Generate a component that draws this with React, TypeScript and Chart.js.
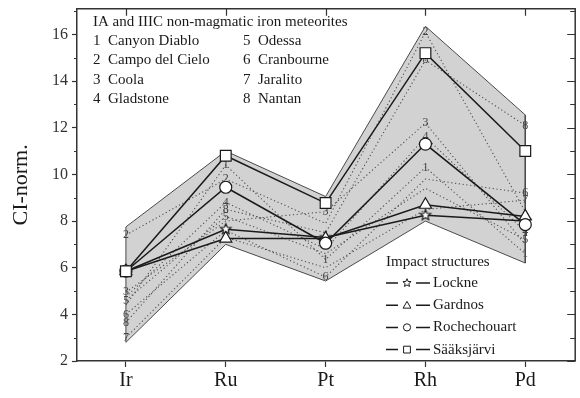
import React, { useEffect, useRef } from "react";
import { Chart, registerables } from "chart.js";

Chart.register(...registerables);

// ---- data ----
const elements = ["Ir", "Ru", "Pt", "Rh", "Pd"];

const meteoriteNames = [
  "Canyon Diablo",
  "Campo del Cielo",
  "Coola",
  "Gladstone",
  "Odessa",
  "Cranbourne",
  "Jaralito",
  "Nantan",
];
const canyonDiablo = [4.4, 10.4, 6.35, 10.3, 6.6];
const campoDelCielo = [7.4, 9.8, 7.9, 16.1, 8.4];
const coola = [4.95, 8.0, 8.4, 12.2, 7.0];
const gladstone = [4.75, 8.8, 6.8, 11.6, 7.55];
const odessa = [4.6, 8.2, 6.6, 9.4, 7.2];
const cranbourne = [4.0, 7.6, 5.6, 9.8, 9.2];
const jaralito = [3.0, 7.3, 6.0, 8.5, 8.9];
const nantan = [3.65, 8.5, 7.5, 14.9, 12.1];
// which element positions carry a visible number label (1 = shown)
const labelShown = ["01111", "11010", "10110", "01011", "11001", "10101", "10001", "11011"];

const impactNames = ["Lockne", "Gardnos", "Rochechouart", "Sääksjärvi"];
const lockne = [5.85, 7.65, 7.3, 8.25, 8.0];
const gardnos = [5.85, 7.25, 7.25, 8.7, 8.2];
const rochechouart = [5.85, 9.45, 7.05, 11.3, 7.85];
const saaksjarvi = [5.85, 10.8, 8.77, 15.2, 11.0];

const envelopeTop = [7.75, 11.0, 9.05, 16.35, 12.55];
const envelopeBottom = [2.8, 7.0, 5.43, 8.0, 6.2];

const legendTitle = "IA and IIIC non-magmatic iron meteorites";
const impactTitle = "Impact structures";
const yTitle = "CI-norm.";

// ---- helpers ----
const SERIF = '"Liberation Serif", "Times New Roman", serif';
const INK = "#1a1a1a";

function starPath(g: CanvasRenderingContext2D, cx: number, cy: number, r: number) {
  g.beginPath();
  for (let k = 0; k < 10; k++) {
    const a = -Math.PI / 2 + (k * Math.PI) / 5;
    const rr = k % 2 === 0 ? r : r * 0.45;
    const px = cx + Math.cos(a) * rr;
    const py = cy + Math.sin(a) * rr;
    if (k === 0) g.moveTo(px, py);
    else g.lineTo(px, py);
  }
  g.closePath();
}

function starCanvas(r: number, lw: number) {
  const size = Math.ceil(2 * r + 2 * lw + 2);
  const c = document.createElement("canvas");
  c.width = size;
  c.height = size;
  const g = c.getContext("2d")!;
  starPath(g, size / 2, size / 2, r);
  g.fillStyle = "#fff";
  g.fill();
  g.strokeStyle = INK;
  g.lineWidth = lw;
  g.stroke();
  return c;
}

function drawMarker(g: CanvasRenderingContext2D, kind: string, x: number, y: number, r: number) {
  g.beginPath();
  if (kind === "star") {
    starPath(g, x, y, r);
  } else if (kind === "triangle") {
    for (let k = 0; k < 3; k++) {
      const a = -Math.PI / 2 + (k * 2 * Math.PI) / 3;
      const px = x + Math.cos(a) * r;
      const py = y + Math.sin(a) * r + r * 0.15;
      if (k === 0) g.moveTo(px, py);
      else g.lineTo(px, py);
    }
    g.closePath();
  } else if (kind === "circle") {
    g.arc(x, y, r, 0, Math.PI * 2);
  } else {
    g.rect(x - r, y - r, 2 * r, 2 * r);
  }
  g.fillStyle = "#fff";
  g.fill();
  g.strokeStyle = INK;
  g.lineWidth = 1;
  g.stroke();
}

const pts = (arr: number[]) => arr.map((y, i) => ({ x: i, y }));

export default function App() {
  const ref = useRef<HTMLCanvasElement>(null);

  useEffect(() => {
    const meteorites = [canyonDiablo, campoDelCielo, coola, gladstone, odessa, cranbourne, jaralito, nantan];
    // drawn top-most first
    const impacts = [
      { name: impactNames[3], data: saaksjarvi, style: "rect" as any, r: 7.6, kind: "rect", lr: 3.4 },
      { name: impactNames[2], data: rochechouart, style: "circle" as any, r: 6, kind: "circle", lr: 3.6 },
      { name: impactNames[1], data: gardnos, style: "triangle" as any, r: 7, kind: "triangle", lr: 4.5 },
      { name: impactNames[0], data: lockne, style: starCanvas(5.5, 1.2) as any, r: 5.5, kind: "star", lr: 4.3 },
    ];

    const datasets: any[] = [];
    impacts.forEach((im) => {
      datasets.push({
        label: im.name,
        data: pts(im.data),
        borderColor: INK,
        borderWidth: 1.5,
        pointStyle: im.style,
        pointRadius: im.r,
        pointBackgroundColor: "#fff",
        pointBorderColor: INK,
        pointBorderWidth: 1.2,
        fill: false,
        tension: 0,
      });
    });
    const firstMeteorite = datasets.length;
    meteorites.forEach((m, i) => {
      datasets.push({
        label: meteoriteNames[i],
        data: pts(m),
        borderColor: "#505050",
        borderWidth: 1.1,
        borderDash: [1.2, 2.6],
        pointRadius: 0,
        fill: false,
        tension: 0,
      });
    });
    const envelope = [
      ...envelopeTop.map((y, i) => ({ x: i, y })),
      ...envelopeBottom.map((y, i) => ({ x: i, y })).reverse(),
      { x: 0, y: envelopeTop[0] },
    ];
    datasets.push({
      label: "envelope",
      data: envelope,
      borderColor: "#4a4a4a",
      borderWidth: 1,
      backgroundColor: "#d2d2d2",
      pointRadius: 0,
      fill: "shape",
      tension: 0,
    });

    const decor = {
      id: "decor",
      afterDatasetDraw(chart: any, args: any) {
        if (args.index !== firstMeteorite) return;
        const g = chart.ctx as CanvasRenderingContext2D;
        g.save();
        g.font = `12px ${SERIF}`;
        g.fillStyle = "#444";
        g.textAlign = "center";
        g.textBaseline = "middle";
        meteorites.forEach((_, mi) => {
          const meta = chart.getDatasetMeta(firstMeteorite + mi);
          meta.data.forEach((p: any, k: number) => {
            if (labelShown[mi][k] === "1") g.fillText(String(mi + 1), p.x, p.y);
          });
        });
        g.restore();
      },
      afterDraw(chart: any) {
        const g = chart.ctx as CanvasRenderingContext2D;
        const { left, right, top, bottom } = chart.chartArea;
        const xs = chart.scales.x;
        const ys = chart.scales.y;
        g.save();
        g.strokeStyle = "#333";
        g.lineWidth = 1.5;
        g.beginPath();
        g.moveTo(left - 0.75, top);
        g.lineTo(right, top);
        g.lineTo(right, bottom);
        g.stroke();
        g.lineWidth = 1.2;
        g.beginPath();
        elements.forEach((_, i) => {
          const px = Math.round(xs.getPixelForValue(i)) + 0.5;
          g.moveTo(px, top);
          g.lineTo(px, top + 7);
        });
        for (let v = 2; v <= 17; v++) {
          const py = Math.round(ys.getPixelForValue(v)) + 0.5;
          const major = v % 2 === 0;
          if (!major) {
            g.moveTo(left - 3, py);
            g.lineTo(left, py);
          }
          g.moveTo(right - (major ? 8 : 5), py);
          g.lineTo(right, py);
        }
        g.stroke();

        // meteorite legend
        g.font = `15px ${SERIF}`;
        g.fillStyle = INK;
        g.textBaseline = "middle";
        g.textAlign = "left";
        g.fillText(legendTitle, 93, 22);
        meteoriteNames.forEach((n, i) => {
          const col = Math.floor(i / 4);
          const row = i % 4;
          const x0 = col === 0 ? 93 : 243;
          const y0 = 41 + row * 19.3;
          g.fillText(String(i + 1), x0, y0);
          g.fillText(n, x0 + 15, y0);
        });

        // impact legend: Lockne, Gardnos, Rochechouart, Sääksjärvi
        g.fillText(impactTitle, 386, 262);
        for (let row = 0; row < 4; row++) {
          const im = impacts[3 - row];
          const y0 = 283 + row * 22.2;
          g.strokeStyle = INK;
          g.lineWidth = 1.5;
          g.beginPath();
          g.moveTo(386, y0);
          g.lineTo(398, y0);
          g.moveTo(416, y0);
          g.lineTo(430, y0);
          g.stroke();
          drawMarker(g, im.kind, 407, y0, im.lr);
          g.fillStyle = INK;
          g.fillText(im.name, 433, y0);
        }
        g.restore();
      },
    };

    const chart = new Chart(ref.current!, {
      type: "line",
      data: { datasets },
      options: {
        responsive: false,
        animation: false,
        devicePixelRatio: 1,
        events: [],
        layout: { padding: { top: 5, left: 0, right: 0, bottom: 0 } },
        plugins: { legend: { display: false }, tooltip: { enabled: false } },
        scales: {
          x: {
            type: "linear",
            position: "bottom",
            min: -0.49,
            max: 4.5,
            afterFit: (s: any) => {
              s.height = 37;
              s.paddingLeft = 0;
              s.paddingRight = 0;
            },
            ticks: {
              stepSize: 1,
              includeBounds: false,
              autoSkip: false,
              maxRotation: 0,
              padding: 2,
              color: INK,
              font: { family: SERIF, size: 20 },
              callback: (v: any) => (Number.isInteger(v) && elements[v] ? elements[v] : ""),
            },
            grid: { drawOnChartArea: false, drawTicks: true, tickLength: 6, tickColor: "#333", tickWidth: 1.2 },
            border: { display: true, color: "#333", width: 1.5 },
          },
          y: {
            type: "linear",
            position: "left",
            min: 2,
            max: 17.1,
            afterFit: (s: any) => {
              s.width = 77;
              s.paddingTop = 0;
              s.paddingBottom = 0;
            },
            ticks: {
              stepSize: 2,
              includeBounds: false,
              padding: 4,
              color: "#333",
              font: { family: SERIF, size: 16 },
            },
            grid: { drawOnChartArea: false, drawTicks: true, tickLength: 5, tickColor: "#333", tickWidth: 1.2 },
            border: { display: true, color: "#333", width: 1.5 },
            title: {
              display: true,
              text: yTitle,
              color: INK,
              font: { family: SERIF, size: 22 },
              padding: { top: 8, bottom: 0 },
            },
          },
        },
      } as any,
      plugins: [decor as any],
    });
    return () => chart.destroy();
  }, []);

  return (
    <div
      style={{
        position: "absolute",
        left: 0,
        top: 0,
        width: 580,
        height: 398,
        overflow: "hidden",
        background: "#fff",
      }}
    >
      <canvas ref={ref} width={584} height={398} style={{ display: "block", width: 584, height: 398 }} />
    </div>
  );
}
